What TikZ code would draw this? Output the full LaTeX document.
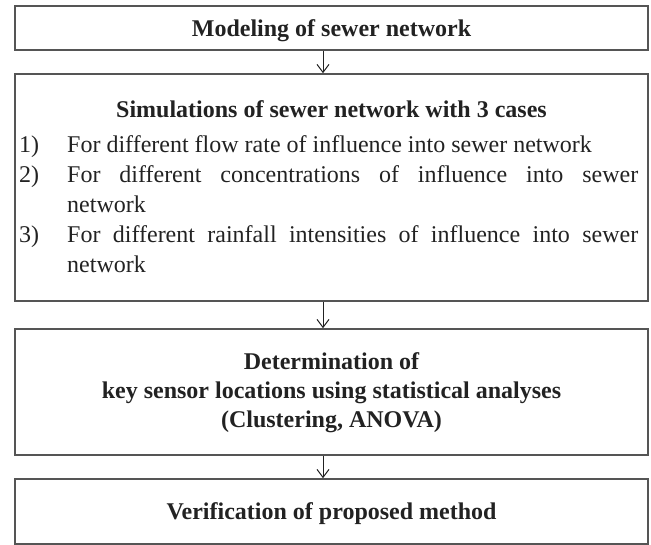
\documentclass[tikz,border=0pt]{standalone}
\usepackage{fontspec}
\setmainfont{Liberation Serif}
\usetikzlibrary{arrows.meta}
\definecolor{edge}{HTML}{555555}
\definecolor{ink}{HTML}{222222}
\begin{document}
\begin{tikzpicture}[x=1pt,y=-1pt,
  boxnode/.style={draw=edge,line width=1.6pt,rectangle,inner sep=0pt,minimum width=633pt},
  txt/.style={inner sep=0pt,text=ink,font=\fontsize{24}{29}\selectfont},
  btxt/.style={txt,font=\fontsize{24}{29}\selectfont\bfseries},
  arr/.style={draw=ink,line width=1pt,-{Straight Barb[length=8pt,width=12pt,line width=1pt]}}]
\useasboundingbox (0,0) rectangle (651,545);
% boxes
\node[boxnode,minimum height=44pt] (b1) at (331.5,28) {};
\node[boxnode,minimum height=227pt] (b2) at (331.5,187.5) {};
\node[boxnode,minimum height=126pt] (b3) at (331.5,392) {};
\node[boxnode,minimum height=65pt] (b4) at (331.5,511.5) {};
% texts
\node[btxt,anchor=base] (t1) at (331.5,37) {Modeling of sewer network};
\node[btxt,anchor=base] (t2) at (331.5,118) {Simulations of sewer network with 3 cases};
\node[txt,anchor=base west] (n1) at (19,153) {1)};
\node[txt,anchor=base west] (l1) at (67,153) {For different flow rate of influence into sewer network};
\node[txt,anchor=base west] (n2) at (19,183) {2)};
\node[txt,anchor=base west] (l2) at (67,183) {\makebox[571pt][s]{For different concentrations of influence into sewer}};
\node[txt,anchor=base west] (l2b) at (67,213) {network};
\node[txt,anchor=base west] (n3) at (19,243) {3)};
\node[txt,anchor=base west] (l3) at (67,243) {\makebox[571pt][s]{For different rainfall intensities of influence into sewer}};
\node[txt,anchor=base west] (l3b) at (67,273) {network};
\node[btxt,anchor=base] (t3a) at (331.5,370) {Determination of};
\node[btxt,anchor=base] (t3b) at (331.5,399) {key sensor locations using statistical analyses};
\node[btxt,anchor=base] (t3c) at (331.5,428) {(Clustering, ANOVA)};
\node[btxt,anchor=base] (t4) at (331.5,519) {Verification of proposed method};
% arrows
\coordinate (ax) at (323,0);
\draw[arr] (b1.south -| ax) -- (b2.north -| ax);
\draw[arr] (b2.south -| ax) -- (b3.north -| ax);
\draw[arr] (b3.south -| ax) -- (b4.north -| ax);
\end{tikzpicture}
\end{document}
